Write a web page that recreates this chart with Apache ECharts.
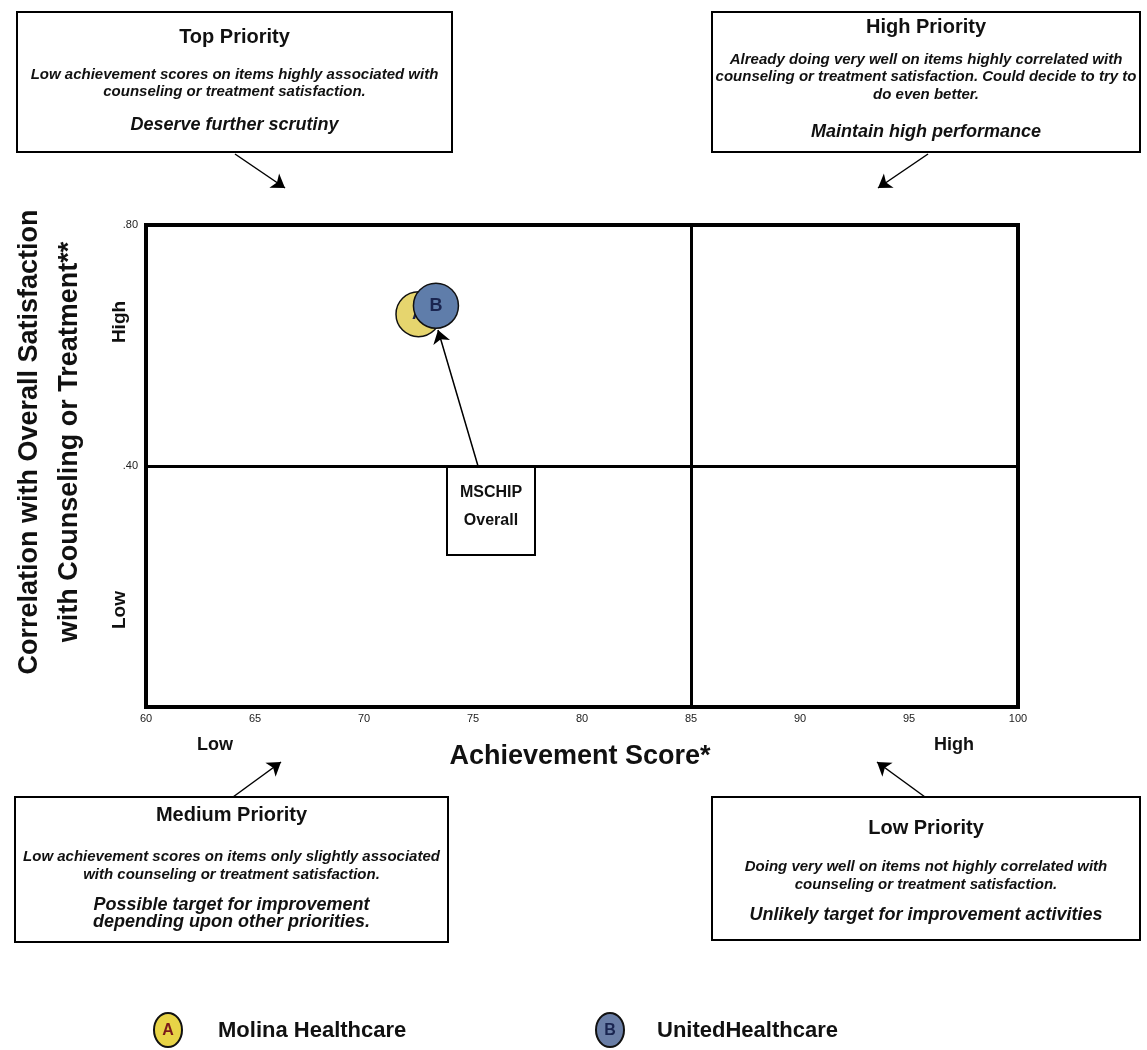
<!DOCTYPE html>
<html>
<head>
<meta charset="utf-8">
<script src="https://cdn.jsdelivr.net/npm/echarts@6/dist/echarts.min.js"></script>
<style>
  html, body { margin: 0; padding: 0; background: #fff; }
  #chart { width: 1147px; height: 1050px; }
</style>
</head>
<body>
<div id="chart"></div>
<script>
// plan names and their points (achievement score, correlation)
const planNames = ['Molina Healthcare', 'UnitedHealthcare']
const planLetters = ['A', 'B']
const planColors = ['#E6D56E', '#5F7DAA']
const achievementScores = [72.5, 73.3]
const correlations = [0.652, 0.666]

const xTicks = [60, 65, 70, 75, 80, 85, 90, 95, 100]
const yTickLabels = { '0.4': '.40', '0.8': '.80' }
const xSplit = 85
const ySplit = 0.40

const FONT = "'Liberation Sans', Arial, sans-serif"

// quadrant boxes
function quadBox (x, y, w, h, lines) {
  const children = [{
    type: 'rect',
    shape: { x: 0, y: 0, width: w, height: h },
    style: { fill: '#fff', stroke: '#000', lineWidth: 2 }
  }]
  lines.forEach(l => {
    children.push({
      type: 'text',
      x: w / 2,
      y: l.y,
      style: {
        text: l.t,
        align: 'center',
        verticalAlign: 'middle',
        fill: '#111',
        font: l.f
      }
    })
  })
  return { type: 'group', x: x, y: y, children: children }
}

const head = 'bold 20px ' + FONT
const body = 'italic bold 15px ' + FONT
const tag = 'italic bold 18px ' + FONT

const chart = echarts.init(document.getElementById('chart'))

const series = planNames.map((name, i) => ({
  name: name,
  type: 'scatter',
  clip: false,
  z: 5 + i,
  symbolSize: 45,
  itemStyle: { color: planColors[i], borderColor: '#111', borderWidth: 1.5, opacity: 1 },
  label: {
    show: true,
    position: 'inside',
    formatter: planLetters[i],
    color: '#1a2550',
    fontWeight: 'bold',
    fontSize: 18,
    fontFamily: FONT
  },
  data: [[achievementScores[i], correlations[i]]]
}))

// quadrant dividers and annotation arrows
series[1].markLine = {
  silent: true,
  symbol: ['none', 'none'],
  label: { show: false },
  lineStyle: { color: '#000', width: 3, type: 'solid' },
  data: [
    { xAxis: xSplit },
    { yAxis: ySplit }
  ]
}
series[0].markLine = {
  silent: true,
  symbol: ['none', 'arrow'],
  symbolSize: 13,
  label: { show: false },
  lineStyle: { color: '#000', width: 1.5, type: 'solid' },
  data: [
    [{ x: 235, y: 154 }, { x: 285, y: 188 }],
    [{ x: 928, y: 154 }, { x: 878, y: 188 }],
    [{ x: 233, y: 797 }, { x: 281, y: 762 }],
    [{ x: 925, y: 797 }, { x: 877, y: 762 }],
    [{ x: 478, y: 466 }, { x: 438, y: 330 }]
  ]
}

const option = {
  backgroundColor: '#fff',
  animation: false,
  grid: {
    left: 146,
    right: 129,
    top: 225,
    bottom: 343,
    show: true,
    borderColor: '#000',
    borderWidth: 4,
    backgroundColor: 'transparent'
  },
  xAxis: {
    type: 'value',
    min: xTicks[0],
    max: xTicks[xTicks.length - 1],
    interval: 5,
    axisLine: { show: false },
    axisTick: { show: false },
    splitLine: { show: false },
    axisLabel: { fontSize: 11, color: '#222', margin: 6, fontFamily: "'Liberation Sans Narrow', " + FONT }
  },
  yAxis: {
    type: 'value',
    min: 0,
    max: 0.8,
    interval: 0.4,
    axisLine: { show: false },
    axisTick: { show: false },
    splitLine: { show: false },
    axisLabel: {
      fontSize: 11,
      color: '#222',
      margin: 8,
      fontFamily: FONT,
      formatter: v => yTickLabels[String(v)] || ''
    }
  },
  series: series,
  graphic: [
    quadBox(17, 12, 435, 140, [
      { t: 'Top Priority', y: 25, f: head },
      { t: 'Low achievement scores on items highly associated with', y: 63, f: body },
      { t: 'counseling or treatment satisfaction.', y: 80, f: body },
      { t: 'Deserve further scrutiny', y: 113, f: tag }
    ]),
    quadBox(712, 12, 428, 140, [
      { t: 'High Priority', y: 15, f: head },
      { t: 'Already doing very well on items highly correlated with', y: 48, f: body },
      { t: 'counseling or treatment satisfaction. Could decide to try to', y: 65, f: body },
      { t: 'do even better.', y: 83, f: body },
      { t: 'Maintain high performance', y: 120, f: tag }
    ]),
    quadBox(15, 797, 433, 145, [
      { t: 'Medium Priority', y: 18, f: head },
      { t: 'Low achievement scores on items only slightly associated', y: 60, f: body },
      { t: 'with counseling or treatment satisfaction.', y: 78, f: body },
      { t: 'Possible target for improvement', y: 108, f: tag },
      { t: 'depending upon other priorities.', y: 125, f: tag }
    ]),
    quadBox(712, 797, 428, 143, [
      { t: 'Low Priority', y: 31, f: head },
      { t: 'Doing very well on items not highly correlated with', y: 70, f: body },
      { t: 'counseling or treatment satisfaction.', y: 88, f: body },
      { t: 'Unlikely target for improvement activities', y: 118, f: tag }
    ]),
    quadBox(447, 466, 88, 89, [
      { t: 'MSCHIP', y: 27, f: 'bold 16px ' + FONT },
      { t: 'Overall', y: 55, f: 'bold 16px ' + FONT }
    ]),
    // axis titles
    {
      type: 'text',
      x: 50,
      y: 442,
      rotation: Math.PI / 2,
      style: {
        text: 'Correlation with Overall Satisfaction\nwith Counseling or Treatment**',
        align: 'center',
        verticalAlign: 'middle',
        lineHeight: 40,
        fill: '#111',
        font: 'bold 27px ' + FONT
      }
    },
    {
      type: 'text', x: 120, y: 322, rotation: Math.PI / 2,
      style: { text: 'High', align: 'center', verticalAlign: 'middle', fill: '#111', font: 'bold 19px ' + FONT }
    },
    {
      type: 'text', x: 120, y: 610, rotation: Math.PI / 2,
      style: { text: 'Low', align: 'center', verticalAlign: 'middle', fill: '#111', font: 'bold 19px ' + FONT }
    },
    {
      type: 'text', x: 580, y: 757,
      style: { text: 'Achievement Score*', align: 'center', verticalAlign: 'middle', fill: '#111', font: 'bold 27px ' + FONT }
    },
    {
      type: 'text', x: 215, y: 745,
      style: { text: 'Low', align: 'center', verticalAlign: 'middle', fill: '#111', font: 'bold 18px ' + FONT }
    },
    {
      type: 'text', x: 954, y: 745,
      style: { text: 'High', align: 'center', verticalAlign: 'middle', fill: '#111', font: 'bold 18px ' + FONT }
    },
    // legend
    {
      type: 'ellipse', shape: { cx: 168, cy: 1030, rx: 14, ry: 17 },
      style: { fill: '#E8D447', stroke: '#111', lineWidth: 2 }
    },
    {
      type: 'text', x: 168, y: 1031,
      style: { text: 'A', align: 'center', verticalAlign: 'middle', fill: '#7a1a1a', font: 'bold 16px ' + FONT }
    },
    {
      type: 'text', x: 218, y: 1031,
      style: { text: planNames[0], align: 'left', verticalAlign: 'middle', fill: '#111', font: 'bold 22px ' + FONT }
    },
    {
      type: 'ellipse', shape: { cx: 610, cy: 1030, rx: 14, ry: 17 },
      style: { fill: '#6A7EA6', stroke: '#111', lineWidth: 2 }
    },
    {
      type: 'text', x: 610, y: 1031,
      style: { text: 'B', align: 'center', verticalAlign: 'middle', fill: '#1a2550', font: 'bold 16px ' + FONT }
    },
    {
      type: 'text', x: 657, y: 1031,
      style: { text: planNames[1], align: 'left', verticalAlign: 'middle', fill: '#111', font: 'bold 22px ' + FONT }
    }
  ]
}

chart.setOption(option)
</script>
</body>
</html>
